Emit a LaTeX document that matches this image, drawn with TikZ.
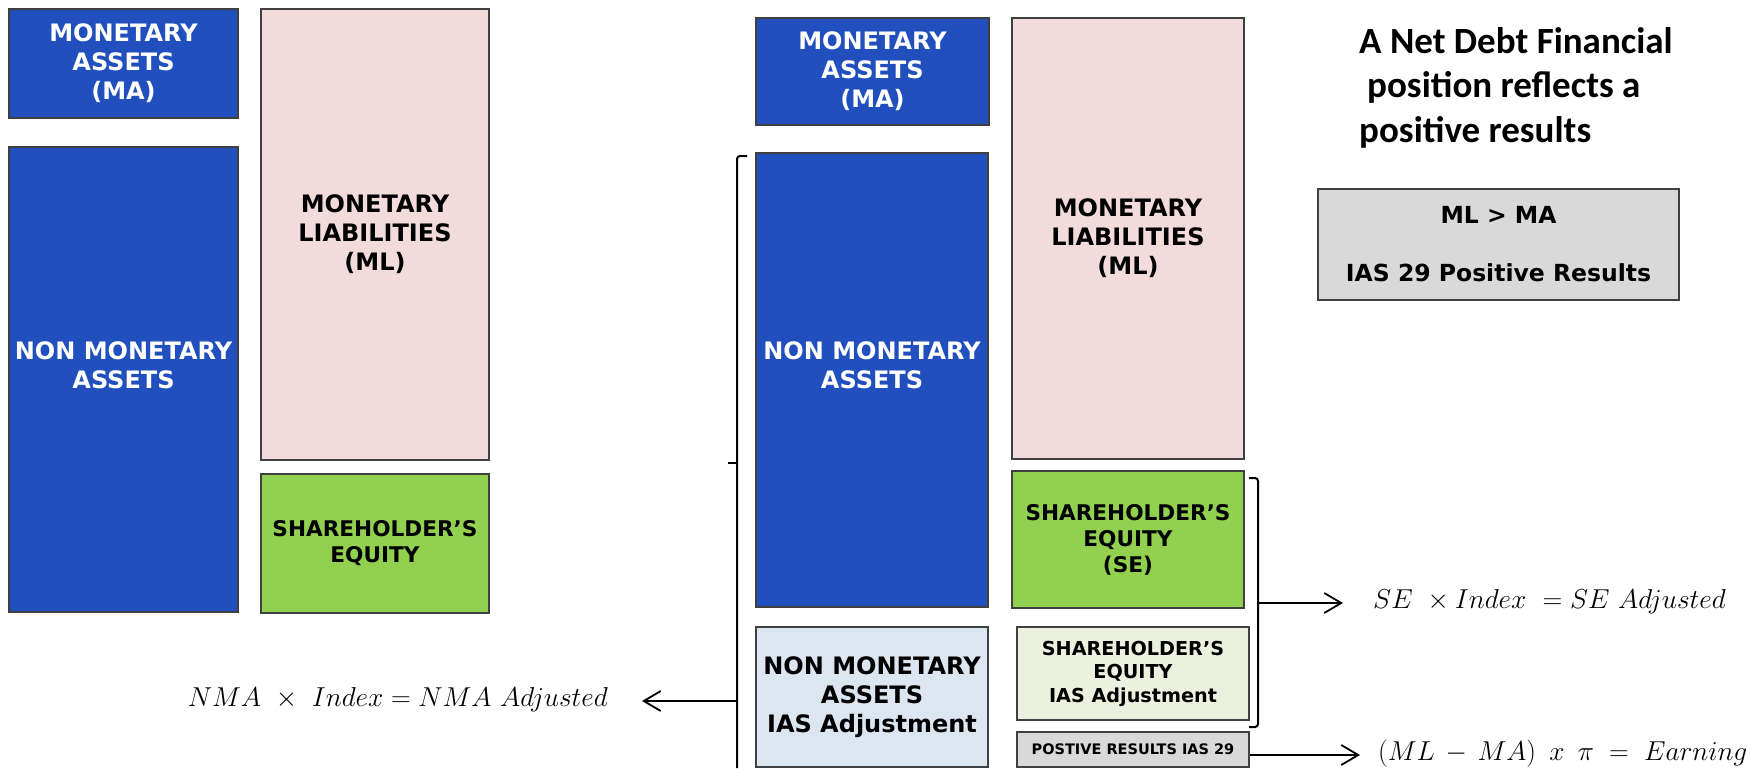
\documentclass[tikz,border=0pt]{standalone}
\usepackage[no-math]{fontspec}
\setmainfont{DejaVu Sans}
\newfontfamily\titlefont{Carlito}
\usepackage{tikz}
\usetikzlibrary{arrows.meta,positioning}

\definecolor{mablue}{HTML}{2150BE}
\definecolor{mlpink}{HTML}{F1DCDB}
\definecolor{segreen}{HTML}{92D050}
\definecolor{adjblue}{HTML}{DCE6F1}
\definecolor{adjgreen}{HTML}{EBF1DE}
\definecolor{resgray}{HTML}{D9D9D9}

\newcommand{\fml}[1]{\scalebox{1.1}{$#1$}}

\tikzset{
acct/.style={draw=black!75,line width=1.4pt,align=center,inner sep=0pt,font=\bfseries\fontsize{24}{29}\selectfont},
seq/.style={font=\bfseries\fontsize{21.6}{26}\selectfont},
arr/.style={-{Straight Barb[length=17pt,width=20pt]},line width=1.8pt},
brk/.style={line width=2pt,rounded corners=3pt},
formula/.style={inner sep=0pt,font=\fontsize{24.88}{30}\selectfont}
}

\begin{document}
\begin{tikzpicture}[x=1pt,y=-1pt]
\useasboundingbox (0,0) rectangle (1750,768);
% balance sheet before restatement
\node[fill=mablue,text=white](ma1) at (123.5,63.5) [acct,minimum width=229,minimum height=109] {MONETARY\\ASSETS\\(MA)};
\node[fill=mablue,text=white](nma1) at (123.5,379.5) [acct,minimum width=229,minimum height=465] {NON MONETARY\\ASSETS\\\mbox{}};
\node[fill=mlpink](ml1) at (375,234.5) [acct,minimum width=228,minimum height=451] {MONETARY\\LIABILITIES\\(ML)};
\node[fill=segreen](se1) at (375,543.5) [acct,seq,minimum width=228,minimum height=139] {SHAREHOLDER’S\\EQUITY};
% balance sheet after restatement
\node[fill=mablue,text=white](ma2) at (872.5,71.5) [acct,minimum width=233,minimum height=107] {MONETARY\\ASSETS\\(MA)};
\node[fill=mablue,text=white](nma2) at (872,380) [acct,minimum width=232,minimum height=454] {NON MONETARY\\ASSETS\\\mbox{}};
\node[fill=mlpink](ml2) at (1128,238.5) [acct,minimum width=232,minimum height=441] {MONETARY\\LIABILITIES\\(ML)};
\node[fill=segreen](se2) at (1128,539.5) [acct,seq,minimum width=232,minimum height=137] {SHAREHOLDER’S\\EQUITY\\(SE)};
\node[fill=adjblue](nmaadj) at (872,697) [acct,minimum width=232,minimum height=140] {NON MONETARY\\ASSETS\\IAS Adjustment};
\node[fill=adjgreen](seadj) at (1133,673.5) [acct,font=\bfseries\fontsize{19.2}{23.5}\selectfont,minimum width=232,minimum height=93] {SHAREHOLDER’S\\EQUITY\\IAS Adjustment};
\node[fill=resgray](posres) at (1133,749.5) [acct,font=\bfseries\fontsize{14.5}{17}\selectfont,minimum width=232,minimum height=35] {POSTIVE RESULTS IAS 29};
% comment box
\node[anchor=north west,align=left,inner sep=0pt,font=\titlefont\bfseries\fontsize{37}{44.5}\selectfont](title) at (1359,27) {A Net Debt Financial\\\hspace*{8pt}position reflects a\\positive results};
\node[fill=resgray](cond) at (1498.5,244.5) [acct,font=\bfseries\fontsize{23.5}{28}\selectfont,minimum width=361,minimum height=111] {ML > MA\\[30pt]IAS 29 Positive Results};
% formulas
\node[formula,anchor=base east](nmaf) at (608,706) {\fml{NMA\ \times\ Index = NMA\ Adjusted}};
\node[formula,anchor=base west](sef) at (1373,608) {\fml{SE\ \times Index\ = SE\ Adjusted}};
\node[formula,anchor=base west](earnf) at (1378,760) {\fml{(ML\,-\,MA)\ \,x\ \,\pi \;=\; Earning}};
% brackets
\draw[brk] (747,156) -- (737,156) -- (737,768);
\draw[line width=2pt] (737,463) -- (728,463);
\draw[brk] (1249,478) -- (1258,478) -- (1258,727) -- (1249,727);
\coordinate (lbrk) at (737,701);
\coordinate (nmatip) at (642,701);
\coordinate (rbrk) at (1258,603);
\coordinate (setip) at (1343,603);
\coordinate (restip) at (1360,755);
\path [arr]
(lbrk) edge (nmatip)
(rbrk) edge (setip)
(posres.east |- restip) edge (restip);
\end{tikzpicture}
\end{document}
